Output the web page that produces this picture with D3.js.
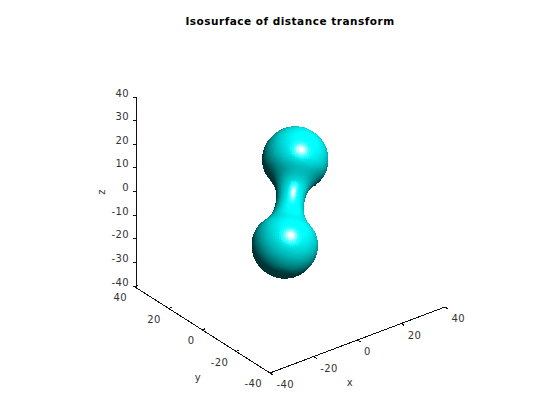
<!DOCTYPE html>
<html><head><meta charset="utf-8">
<script src="https://cdn.jsdelivr.net/npm/d3@7"></script>
<style>html,body{margin:0;background:#fff}svg{display:block}text{font-family:"DejaVu Sans",sans-serif}</style>
</head><body><svg id="c" width="560" height="420"></svg>
<script>
const titleText = "Isosurface of distance transform";
const xTicks = [-40,-20,0,20,40];
const yTicks = [-40,-20,0,20,40];
const zTicks = [-40,-30,-20,-10,0,10,20,30,40];
// Profile of the isosurface: position along the blob axis and radius there (data units)
const profileS = [-34,-33.5,-32.8,-31.5,-29.5,-27,-24,-20,-16,-13,-10,-7,-3.5,0,3.5,7,10,13,16,20,24,27,29.5,31.5,32.8,33.5,34];
const profileR = [0,3.7,5.7,8,10.3,12.1,13.4,14,13.4,11.9,9,7,6,5.7,6,7,9,11.9,13.4,14,13.4,12.1,10.3,8,5.7,3.7,0];
// Direction of the blob axis in screen/depth coordinates
const axisDir = [10.5,85.7,-40];

const svg = d3.select("#c");
svg.append("rect").attr("width",560).attr("height",420).attr("fill","#fff");

// Projected axis scales: each data axis maps to a screen x and y shift
const corner = {x:270,y:373};
const xAxisX = d3.scaleLinear().domain([-40,40]).range([270,445]);
const xAxisY = d3.scaleLinear().domain([-40,40]).range([373,307]);
const yAxisX = d3.scaleLinear().domain([-40,40]).range([270,135]);
const yAxisY = d3.scaleLinear().domain([-40,40]).range([373,287]);
const zAxisY = d3.scaleLinear().domain([-40,40]).range([286,97]);
const zAxisX = 136;
const unit = d3.scaleLinear().domain([0,40]).range([0,94.8]);
const cx = (xAxisX(0)+yAxisX(0)-corner.x), cy = (xAxisY(0)+yAxisY(0)-corner.y+zAxisY(0)-zAxisY(-40));

// Surface mesh
const norm = v => {const l=Math.hypot(...v);return v.map(a=>a/l)};
const cross=(a,b)=>[a[1]*b[2]-a[2]*b[1],a[2]*b[0]-a[0]*b[2],a[0]*b[1]-a[1]*b[0]];
const dot=(a,b)=>a[0]*b[0]+a[1]*b[1]+a[2]*b[2];
const d = norm(axisDir);
const u = norm(cross(d,[0,0,1]));
const v = cross(d,u);
const sAt = d3.interpolateBasis(profileS), rAt = d3.interpolateBasis(profileR);
const rings=150, segs=96, verts=[];
for(let i=0;i<=rings;i++){
  const t=i/rings, e=1/rings/2;
  const s=sAt(t), r=Math.max(0,rAt(t));
  const ds=sAt(Math.min(1,t+e))-sAt(Math.max(0,t-e)), dr=rAt(Math.min(1,t+e))-rAt(Math.max(0,t-e));
  const row=[];
  for(let j=0;j<=segs;j++){
    const a=j/segs*2*Math.PI, rad=[0,1,2].map(k=>Math.cos(a)*u[k]+Math.sin(a)*v[k]);
    const p=[0,1,2].map(k=>unit(s)*d[k]+unit(r)*rad[k]);
    const n=norm([0,1,2].map(k=>ds*rad[k]-dr*d[k]));
    row.push({p,n});
  }
  verts.push(row);
}
const L=norm([.335,.558,.73]), H=norm([.18,.30,.93]);
function shade(n){
  const dif=Math.max(0,(dot(n,L)+.12)/1.12), sp=Math.pow(Math.max(0,dot(n,H)),60);
  const g=.2+.84*dif;
  const w=1.1*sp;
  const c=Math.min(1,g+w);
  return d3.rgb(Math.round(255*Math.min(1,w)),Math.round(255*c),Math.round(255*c)).formatHex();
}
const quads=[];
for(let i=0;i<rings;i++)for(let j=0;j<segs;j++){
  const q=[verts[i][j],verts[i+1][j],verts[i+1][j+1],verts[i][j+1]];
  const n=norm([0,1,2].map(k=>q[0].n[k]+q[1].n[k]+q[2].n[k]+q[3].n[k]));
  if(n[2]<-.05)continue;
  quads.push({q,n,z:d3.mean(q,a=>a.p[2])});
}
quads.sort((a,b)=>a.z-b.z);
const line=d3.line().x(a=>cx+a.p[0]).y(a=>cy-a.p[1]).curve(d3.curveLinearClosed);
svg.append("g").attr("shape-rendering","crispEdges").selectAll("path").data(quads).join("path")
  .attr("d",a=>line(a.q)).attr("fill",a=>shade(a.n)).attr("stroke",a=>shade(a.n)).attr("stroke-width",.7);

// Axes
const ax=svg.append("g").attr("stroke","#111").attr("stroke-width",1).attr("fill","none").attr("shape-rendering","crispEdges");
ax.append("line").attr("x1",zAxisX).attr("x2",zAxisX).attr("y1",zAxisY(-40)).attr("y2",zAxisY(40));
ax.append("line").attr("x1",xAxisX(-40)).attr("y1",xAxisY(-40)).attr("x2",xAxisX(40)).attr("y2",xAxisY(40));
ax.append("line").attr("x1",yAxisX(-40)).attr("y1",yAxisY(-40)).attr("x2",yAxisX(40)).attr("y2",yAxisY(40));
const tl=svg.append("g").attr("fill","#333").attr("font-size",10).attr("letter-spacing",.4);
zTicks.forEach(t=>{
  ax.append("line").attr("x1",zAxisX-3).attr("x2",zAxisX).attr("y1",zAxisY(t)).attr("y2",zAxisY(t));
  tl.append("text").attr("x",zAxisX-7).attr("y",zAxisY(t)-.5).attr("text-anchor","end").text(t);
});
xTicks.forEach(t=>{
  const px=xAxisX(t),py=xAxisY(t);
  ax.append("line").attr("x1",px).attr("y1",py).attr("x2",px+3).attr("y2",py+2);
  tl.append("text").attr("x",px+6.5).attr("y",py+15).text(t);
});
yTicks.forEach(t=>{
  const px=yAxisX(t),py=yAxisY(t);
  ax.append("line").attr("x1",px).attr("y1",py).attr("x2",px+3).attr("y2",py-1.5);
  tl.append("text").attr("x",px-8).attr("y",py+14).attr("text-anchor","end").text(t);
});
tl.append("text").attr("x",350).attr("y",386).attr("text-anchor","middle").text("x");
tl.append("text").attr("x",198).attr("y",381).attr("text-anchor","middle").text("y");
tl.append("text").attr("transform","translate(105,192) rotate(-90)").attr("text-anchor","middle").text("z");
svg.append("text").attr("x",290).attr("y",25).attr("text-anchor","middle").attr("font-size",10.5).attr("letter-spacing",.5).attr("font-weight","bold").attr("fill","#000").text(titleText);
</script></body></html>
